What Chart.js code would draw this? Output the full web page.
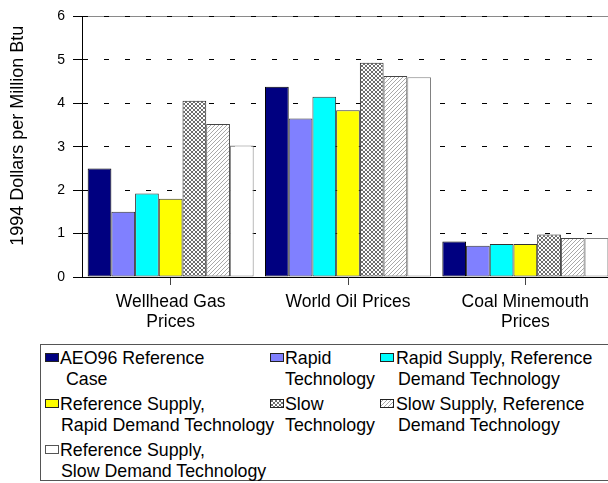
<!DOCTYPE html>
<html>
<head>
<meta charset="utf-8">
<script src="https://cdn.jsdelivr.net/npm/chart.js@4.4.1/dist/chart.umd.min.js"></script>
<style>
  html, body { margin: 0; padding: 0; background: #fff; overflow: hidden; width: 608px; height: 483px; }
  #chartBox { position: absolute; left: 0; top: 0; width: 614px; height: 340px; }
  #legend {
    position: absolute; left: 40px; top: 344px; width: 620px; height: 137px;
    border: 1px solid #555; box-sizing: border-box;
    font-family: "Liberation Sans", Arial, sans-serif; font-size: 17.8px; color: #000;
  }
  .lg-line { position: absolute; white-space: nowrap; line-height: 21px; height: 21px; }
  .lg-swatch { position: absolute; }
</style>
</head>
<body>
<div id="chartBox"><canvas id="chart" width="614" height="340"></canvas></div>
<div id="legend"></div>
<script>
// Categories along the x axis (multi-line labels)
const categories = [['Wellhead Gas', 'Prices'], 'World Oil Prices', ['Coal Minemouth', 'Prices']];

// Series names, split where the legend wraps them
const seriesLabels = [
  ['AEO96 Reference', 'Case'],
  ['Rapid', 'Technology'],
  ['Rapid Supply, Reference', 'Demand Technology'],
  ['Reference Supply,', 'Rapid Demand Technology'],
  ['Slow', 'Technology'],
  ['Slow Supply, Reference', 'Demand Technology'],
  ['Reference Supply,', 'Slow Demand Technology']
];

// Prices, 1994 dollars per million Btu: [wellhead gas, world oil, coal minemouth]
const aeo96Reference       = [2.50, 4.38, 0.82];
const rapidTechnology      = [1.50, 3.65, 0.72];
const rapidSupplyRefDemand = [1.92, 4.15, 0.76];
const refSupplyRapidDemand = [1.80, 3.84, 0.76];
const slowTechnology       = [4.06, 4.93, 0.98];
const slowSupplyRefDemand  = [3.52, 4.63, 0.90];
const refSupplySlowDemand  = [3.03, 4.60, 0.90];

const yTicks = [0, 1, 2, 3, 4, 5, 6];
const yTitle = '1994 Dollars per Million Btu';

const FONT = '"Liberation Sans", Arial, sans-serif';

// Fill patterns for the two "slow" series
function crossHatch(ctx) {
  const c = document.createElement('canvas');
  c.width = 4; c.height = 4;
  const g = c.getContext('2d');
  g.fillStyle = '#ffffff'; g.fillRect(0, 0, 4, 4);
  g.fillStyle = '#6e6e6e';
  [[0,0],[3,0],[1,1],[2,1],[1,2],[2,2],[0,3],[3,3]].forEach(p => g.fillRect(p[0], p[1], 1, 1));
  return ctx.createPattern(c, 'repeat');
}
function diagHatch(ctx) {
  const c = document.createElement('canvas');
  c.width = 4; c.height = 4;
  const g = c.getContext('2d');
  g.fillStyle = '#ffffff'; g.fillRect(0, 0, 4, 4);
  g.fillStyle = '#a8a8a8';
  [[3,0],[2,1],[1,2],[0,3]].forEach(p => g.fillRect(p[0], p[1], 1, 1));
  return ctx.createPattern(c, 'repeat');
}

const canvas = document.getElementById('chart');
const ctx = canvas.getContext('2d');

const seriesValues = [aeo96Reference, rapidTechnology, rapidSupplyRefDemand, refSupplyRapidDemand,
                      slowTechnology, slowSupplyRefDemand, refSupplySlowDemand];
const fills = ['#000080', '#8080ff', '#00ffff', '#ffff00', crossHatch(ctx), diagHatch(ctx), '#ffffff'];
const borders = ['#000000', '#333333', '#333333', '#333333', '#222222', '#444444', '#808080'];

const datasets = seriesValues.map((vals, i) => ({
  label: seriesLabels[i].join(' '),
  data: vals,
  backgroundColor: fills[i],
  borderColor: borders[i],
  borderWidth: 1,
  borderSkipped: false,
  barPercentage: 1.0,
  categoryPercentage: 0.936
}));

// Solid grey frame line along the top of the plot area, drawn under the dashed grid
const topFrame = {
  id: 'topFrame',
  beforeDraw(chart) {
    const a = chart.chartArea, c = chart.ctx;
    c.save();
    c.strokeStyle = '#8a8a8a';
    c.lineWidth = 1;
    c.beginPath();
    c.moveTo(a.left, Math.round(a.top) + 0.5);
    c.lineTo(a.right, Math.round(a.top) + 0.5);
    c.stroke();
    c.restore();
  }
};

// Rotated value-axis title
const axisTitle = {
  id: 'axisTitle',
  afterDraw(chart) {
    const a = chart.chartArea, c = chart.ctx;
    c.save();
    c.translate(18, (a.top + a.bottom) / 2 - 11);
    c.rotate(-Math.PI / 2);
    c.font = '18px ' + FONT;
    c.fillStyle = '#000';
    c.textAlign = 'center';
    c.textBaseline = 'middle';
    c.fillText(yTitle, 0, 0);
    c.restore();
  }
};

new Chart(ctx, {
  type: 'bar',
  data: { labels: categories, datasets },
  options: {
    responsive: false,
    animation: false,
    devicePixelRatio: 1,
    layout: { padding: { top: 12, left: 0, right: 0, bottom: 0 } },
    plugins: { legend: { display: false }, tooltip: { enabled: false } },
    scales: {
      x: {
        offset: true,
        afterFit(scale) { scale.height = 63; },
        grid: { display: true, drawOnChartArea: false, drawTicks: true, tickLength: 8, offset: false, color: '#444', tickColor: '#444' },
        border: { display: true, color: '#000', width: 1 },
        ticks: { color: '#000', padding: 8, font: { family: FONT, size: 17.5, lineHeight: 1.1 }, maxRotation: 0, autoSkip: false }
      },
      y: {
        min: 0, max: 6,
        afterFit(scale) { scale.width = 82; },
        afterBuildTicks(scale) { scale.ticks = yTicks.map(v => ({ value: v })); },
        grid: { color: '#000', lineWidth: 1, tickBorderDash: [], tickColor: '#000', tickLength: 9, drawTicks: true },
        border: { display: true, color: '#000', width: 1, dash: [5, 16] },
        ticks: { color: '#000', padding: 8, font: { family: FONT, size: 14 } }
      }
    }
  },
  plugins: [topFrame, axisTitle]
});

// Legend (three columns, wrapped labels)
const legendCols = [45, 270, 380];          // swatch left edge per column (page px)
const legendRows = [348, 394, 440];         // top of the first text line per row (page px)
const line1X = [60, 285, 396];              // first line start per column
const line2X = [66, 285, 398, 61, 285, 398, 61]; // second line start per item
const legendEl = document.getElementById('legend');
const boxLeft = 41, boxTop = 345;           // inner origin of the legend box
seriesLabels.forEach((lines, i) => {
  const col = i % 3, row = Math.floor(i / 3);
  const sw = document.createElement('canvas');
  sw.width = 14; sw.height = 9;
  sw.className = 'lg-swatch';
  sw.style.left = (legendCols[col] - boxLeft) + 'px';
  sw.style.top = (legendRows[row] + 5 - boxTop) + 'px';
  const g = sw.getContext('2d');
  const f = fills[i];
  g.fillStyle = (typeof f === 'string') ? f : (i === 4 ? crossHatch(g) : diagHatch(g));
  g.fillRect(0, 0, 14, 9);
  g.strokeStyle = borders[i] === '#808080' ? '#555' : '#222';
  g.lineWidth = 1;
  g.strokeRect(0.5, 0.5, 13, 8);
  legendEl.appendChild(sw);
  lines.forEach((txt, k) => {
    const d = document.createElement('div');
    d.className = 'lg-line';
    d.textContent = txt;
    d.style.left = ((k === 0 ? line1X[col] : line2X[i]) - boxLeft) + 'px';
    d.style.top = (legendRows[row] + k * 21 - boxTop) + 'px';
    legendEl.appendChild(d);
  });
});
</script>
</body>
</html>
